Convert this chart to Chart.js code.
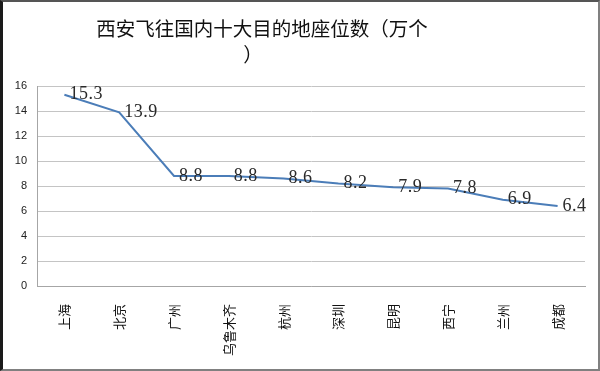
<!DOCTYPE html>
<html>
<head>
<meta charset="utf-8">
<script src="https://cdn.jsdelivr.net/npm/chart.js@4"></script>
<style>
  html, body { margin: 0; padding: 0; background: #fff; }
  #frame {
    width: 595px; height: 367px;
    border-left: 3px solid #1a1a1a;
    border-top: 2px solid #555;
    border-right: 2px solid #808080;
    border-bottom: 2px solid #808080;
  }
  canvas { display: block; }
</style>
</head>
<body>
<div id="frame"><canvas id="seatChart" width="595" height="367"></canvas></div>
<script>
// 城市与座位数（万个）
const cities = ['上海', '北京', '广州', '乌鲁木齐', '杭州', '深圳', '昆明', '西宁', '兰州', '成都'];
const seats = [15.3, 13.9, 8.8, 8.8, 8.6, 8.2, 7.9, 7.8, 6.9, 6.4];
const titleLines = ['西安飞往国内十大目的地座位数（万个', '）'];
const yTicks = [0, 2, 4, 6, 8, 10, 12, 14, 16];

// 标题（偏左居中，跟原图一样）
const titlePlugin = {
    id: 'titleText',
    afterDraw(chart) {
        const c = chart.ctx;
        c.save();
        c.fillStyle = '#111';
        c.font = '19.5px "Noto Sans CJK SC"';
        c.textAlign = 'center';
        c.textBaseline = 'middle';
        c.fillText(titleLines[0], 259, 27);
        c.fillText(titleLines[1], 250, 53);
        c.restore();
    }
};

// 数据标签：放在点的右边
const labelPlugin = {
    id: 'pointLabels',
    afterDatasetsDraw(chart) {
        const c = chart.ctx;
        const meta = chart.getDatasetMeta(0);
        c.save();
        c.fillStyle = '#2a2a2a';
        c.font = '18px "Liberation Serif"';
        c.letterSpacing = '0.5px';
        c.textAlign = 'left';
        c.textBaseline = 'middle';
        meta.data.forEach((pt, i) => {
            c.fillText(seats[i].toFixed(1), pt.x + 5, pt.y);
        });
        c.restore();
    }
};

new Chart(document.getElementById('seatChart'), {
    type: 'line',
    data: {
        labels: cities,
        datasets: [{
            data: seats,
            borderColor: '#4b7db8',
            borderWidth: 2,
            tension: 0,
            pointRadius: 0
        }]
    },
    options: {
        responsive: false,
        animation: false,
        layout: { padding: { top: 84, right: 13, left: 0, bottom: 0 } },
        plugins: {
            legend: { display: false },
            tooltip: { enabled: false }
        },
        scales: {
            x: {
                offset: true,
                grid: { display: false },
                border: { display: true, color: '#a6a6a6', width: 1 },
                ticks: {
                    color: '#111',
                    font: { family: '"Noto Sans CJK SC"', size: 13 },
                    minRotation: 90,
                    maxRotation: 90,
                    padding: 10
                },
                afterFit: (s) => { s.height = 83; }
            },
            y: {
                min: 0,
                max: 16,
                afterBuildTicks: (s) => { s.ticks = yTicks.map(v => ({ value: v })); },
                grid: { color: '#c4c4c4', drawTicks: false },
                border: { display: true, color: '#a6a6a6', width: 1 },
                ticks: {
                    color: '#222',
                    font: { family: '"Liberation Sans"', size: 11 },
                    padding: 10
                },
                afterFit: (s) => { s.width = 34; }
            }
        }
    },
    plugins: [titlePlugin, labelPlugin]
});
</script>
</body>
</html>
